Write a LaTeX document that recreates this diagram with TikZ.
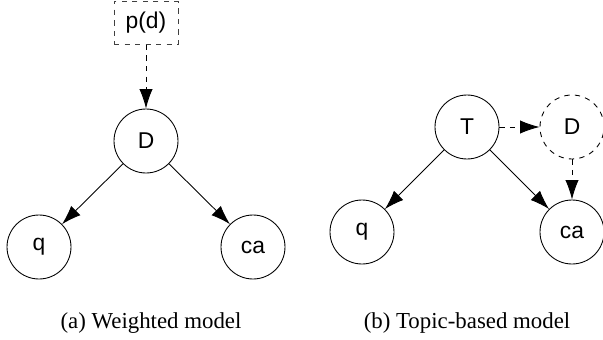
\documentclass[tikz,border=0pt]{standalone}
\usepackage{fontspec}
\setmainfont{Liberation Serif}
\setsansfont{Liberation Sans}
\usetikzlibrary{arrows.meta,shapes,positioning}
\tikzset{
  var/.style     = {draw, circle, minimum size=1.28cm, inner sep=0pt,
                    line width=0.5pt, font=\sffamily\fontsize{13}{15}\selectfont},
  hidden/.style  = {var, dashed},
  prior/.style   = {draw, dashed, black!75, text=black, rectangle,
                    minimum width=1.28cm, minimum height=0.86cm,
                    font=\sffamily\fontsize{13}{15}\selectfont},
  caption/.style = {font=\fontsize{13}{15}\selectfont}
}

\begin{document}
\begin{tikzpicture}[
  >={Latex[length=11pt,width=7.5pt]},
  every path/.style={line width=0.5pt}]
\useasboundingbox (0,0) rectangle (12.06,-6.78);

% (a) document node with a prior
\node[var] (Da) at (2.92,-2.82) {D};
\node[prior, above of = Da, node distance=2.36cm] (pd) {p(d)};
\node[var, below of = Da, node distance=2.12cm, xshift=-2.14cm] (qa) {q};
\node[var, below of = Da, node distance=2.12cm, xshift=2.14cm] (caa) {ca};
\node[caption] (capa) at (3.02,-6.46) {(a) Weighted model};

\draw[->, dashed] (pd) -- (Da);
\foreach \dst in {qa,caa}
  \draw[->] (Da) -- (\dst);

% (b) topic node, document only observed through the answer
\node[var] (T) at (9.34,-2.54) {T};
\node[hidden, right of = T, node distance=2.1cm] (Db) {D};
\node[var, below of = T, node distance=2.1cm, xshift=-2.1cm] (qb) {q};
\node[var, below of = Db, node distance=2.1cm] (cab) {ca};
\node[caption] (capb) at (9.34,-6.46) {(b) Topic-based model};

\foreach \dst in {qb,cab}
  \draw[->] (T) -- (\dst);
\draw[->, dashed] (T) -- (Db);
\draw[->, dashed] (Db) -- (cab);
\end{tikzpicture}
\end{document}
